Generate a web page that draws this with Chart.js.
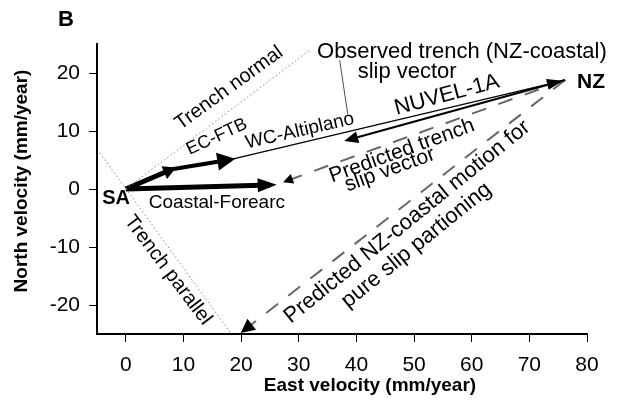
<!DOCTYPE html>
<html><head><meta charset="utf-8">
<script src="https://cdn.jsdelivr.net/npm/chart.js@4.4.1/dist/chart.umd.min.js"></script>
<style>html,body{margin:0;padding:0;background:#fff;} #wrap{width:621px;height:401px;}</style>
</head><body><div id="wrap"><canvas id="c" width="621" height="401"></canvas></div>
<script>
// ---- data (mm/year) ----
const xTicks = [0, 10, 20, 30, 40, 50, 60, 70, 80];
const yTicks = [-20, -10, 0, 10, 20];
const ecFtb = [[0, 0], [8.0, 3.4]];
const wcAltiplano = [[8.0, 3.4], [18.3, 5.1]];
const coastalForearc = [[0, 0], [25.0, 0.7]];
const nuvel1a = [[18.3, 5.1], [75.5, 18.6]];
const observedSlip = [[76.2, 18.8], [38.3, 8.4]];
const predictedSlip = [[76.2, 18.8], [27.6, 1.3]];
const predictedPartition = [[76.2, 18.8], [20.2, -24.6]];
const trenchNormal = [[0, 0], [32, 24]];
const trenchParallel = [[-4.5, 6.2], [18.3, -25]];
const leaderLine = [[37.1, 22.2], [38.5, 12.9]];

const FONT = '"Liberation Sans", Arial, Helvetica, sans-serif';

// text annotations (data coordinates)
const labels = [
  {t: 'Trench normal', x: 17.9, y: 17.4, r: -36, s: 20},
  {t: 'EC-FTB', x: 15.8, y: 9.0, r: -25, s: 18},
  {t: 'WC-Altiplano', x: 30.2, y: 10.0, r: -13, s: 19},
  {t: 'Observed trench (NZ-coastal)', x: 58.3, y: 23.6, r: 0, s: 22},
  {t: 'slip vector', x: 48.8, y: 20.2, r: 0, s: 22},
  {t: 'NUVEL-1A', x: 55.7, y: 16.2, r: -15, s: 22},
  {t: 'NZ', x: 80.7, y: 18.4, r: 0, s: 21, b: true},
  {t: 'SA', x: -1.7, y: -1.55, r: 0, s: 20, b: true},
  {t: 'Coastal-Forearc', x: 15.8, y: -2.4, r: 0, s: 19},
  {t: 'Predicted trench', x: 47.9, y: 6.55, r: -20, s: 21},
  {t: 'slip vector', x: 45.8, y: 3.3, r: -20, s: 21},
  {t: 'Predicted NZ-coastal motion for', x: 48.8, y: -5.7, r: -39, s: 22},
  {t: 'pure slip partioning', x: 50.4, y: -9.7, r: -39, s: 22},
  {t: 'Trench parallel', x: 7.3, y: -14, r: 53, s: 20}
];

function pts(a) { return a.map(p => ({x: p[0], y: p[1]})); }
function ds(data, o) {
  return Object.assign({data: pts(data), showLine: true, pointRadius: 0, pointHoverRadius: 0,
    borderColor: '#000', borderWidth: 1, fill: false, tension: 0, borderCapStyle: 'butt'}, o);
}

const arrowPlugin = {
  id: 'arrows',
  afterDatasetsDraw(chart) {
    const {ctx, chartArea: a, scales: {x, y}} = chart;
    ctx.save();
    ctx.beginPath();
    ctx.rect(a.left, a.top - 2, a.right - a.left, a.bottom - a.top + 1);
    ctx.clip();
    chart.data.datasets.forEach(d => {
      if (!d.arrow) return;
      const n = d.data.length;
      const p1 = d.data[n - 2], p2 = d.data[n - 1];
      const x1 = x.getPixelForValue(p1.x), y1 = y.getPixelForValue(p1.y);
      const x2 = x.getPixelForValue(p2.x), y2 = y.getPixelForValue(p2.y);
      const L = Math.hypot(x2 - x1, y2 - y1);
      const ux = (x2 - x1) / L, uy = (y2 - y1) / L;
      const ext = (d.borderWidth / 2) * d.arrow.len / d.arrow.half;
      const tx = x2 + ux * ext, ty = y2 + uy * ext;
      const bx = tx - ux * d.arrow.len, by = ty - uy * d.arrow.len;
      const nx = -uy, ny = ux;
      const notch = d.arrow.notch || 0;
      ctx.beginPath();
      ctx.moveTo(tx, ty);
      ctx.lineTo(bx + nx * d.arrow.half, by + ny * d.arrow.half);
      ctx.lineTo(bx + ux * notch, by + uy * notch);
      ctx.lineTo(bx - nx * d.arrow.half, by - ny * d.arrow.half);
      ctx.closePath();
      ctx.fillStyle = d.arrow.color || '#000';
      ctx.fill();
    });
    ctx.restore();
  }
};

const textPlugin = {
  id: 'texts',
  afterDraw(chart) {
    const {ctx, scales: {x, y}} = chart;
    ctx.save();
    ctx.fillStyle = '#000';
    ctx.textAlign = 'center';
    ctx.textBaseline = 'middle';
    labels.forEach(l => {
      ctx.save();
      ctx.translate(x.getPixelForValue(l.x), y.getPixelForValue(l.y));
      ctx.rotate(l.r * Math.PI / 180);
      ctx.font = (l.b ? 'bold ' : '') + l.s + 'px ' + FONT;
      ctx.fillText(l.t, 0, 0);
      ctx.restore();
    });
    // panel letter and axis titles
    ctx.font = 'bold 22px ' + FONT;
    ctx.fillText('B', 66, 20);
    ctx.font = 'bold 19px ' + FONT;
    ctx.fillText('East velocity (mm/year)', 370, 386);
    ctx.save();
    ctx.translate(22, 181);
    ctx.rotate(-Math.PI / 2);
    ctx.fillText('North velocity (mm/year)', 0, 0);
    ctx.restore();
    ctx.restore();
  }
};

const dotted = {borderColor: '#8a8a8a', borderWidth: 1, borderDash: [1.5, 2.5]};
const dashed = {borderColor: '#666', borderWidth: 2, borderDash: [15, 13]};

new Chart(document.getElementById('c'), {
  type: 'scatter',
  data: {
    datasets: [
      ds(trenchNormal, dotted),
      ds(trenchParallel, dotted),
      ds(leaderLine, {borderColor: '#222', borderWidth: 0.8}),
      ds(nuvel1a, {borderWidth: 1.3, arrow: {len: 16, half: 5.5}}),
      ds(observedSlip, {borderWidth: 2.2, arrow: {len: 14, half: 6}}),
      ds(predictedSlip, Object.assign({}, dashed, {arrow: {len: 10, half: 5, color: '#000'}})),
      ds(predictedPartition, Object.assign({}, dashed, {arrow: {len: 14, half: 7, color: '#000'}})),
      ds(ecFtb, {borderWidth: 5, arrow: {len: 13, half: 7}}),
      ds(wcAltiplano, {borderWidth: 4, arrow: {len: 18, half: 9}}),
      ds(coastalForearc, {borderWidth: 5, arrow: {len: 19, half: 7}})
    ]
  },
  options: {
    responsive: false,
    animation: false,
    events: [],
    layout: {padding: {top: 44, right: 34, bottom: 0, left: 0}},
    plugins: {legend: {display: false}, tooltip: {enabled: false}},
    scales: {
      x: {
        type: 'linear', min: -5, max: 80,
        afterBuildTicks: s => { s.ticks = xTicks.map(v => ({value: v})); },
        afterFit: s => { s.height = 67; },
        grid: {display: true, drawOnChartArea: false, drawTicks: true, tickLength: 8, color: '#000', lineWidth: 1},
        border: {display: true, color: '#000', width: 2},
        ticks: {color: '#000', font: {family: FONT, size: 21}, padding: 11, maxRotation: 0, autoSkip: false}
      },
      y: {
        type: 'linear', min: -25, max: 25,
        afterBuildTicks: s => { s.ticks = yTicks.map(v => ({value: v})); },
        afterFit: s => { s.width = 97; },
        grid: {display: true, drawOnChartArea: false, drawTicks: true, tickLength: 8, color: '#000', lineWidth: 1},
        border: {display: true, color: '#000', width: 2},
        ticks: {color: '#000', font: {family: FONT, size: 21}, padding: 9, autoSkip: false}
      }
    }
  },
  plugins: [arrowPlugin, textPlugin]
});
</script>
</body></html>
